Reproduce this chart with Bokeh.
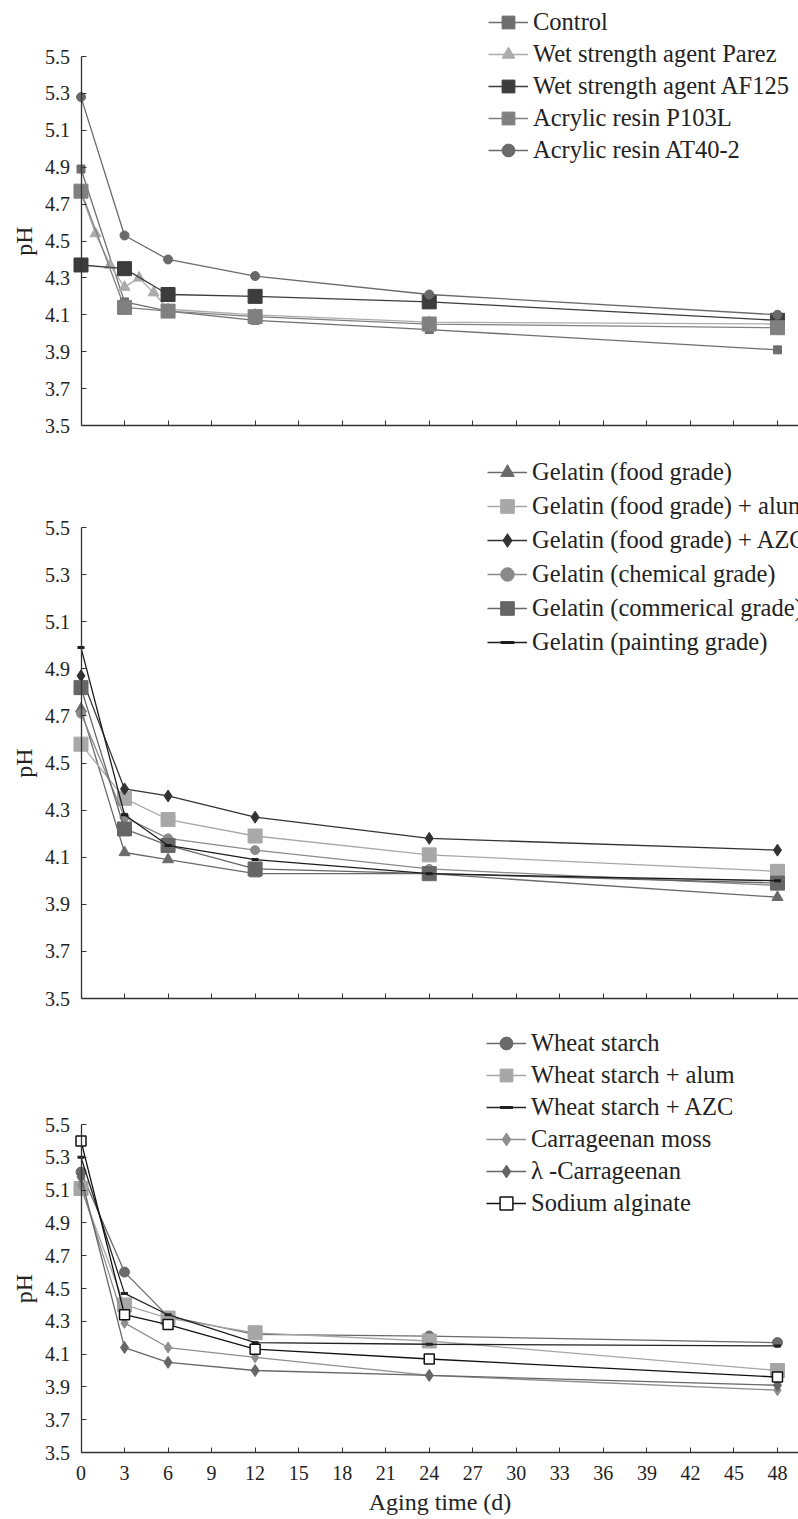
from bokeh.plotting import figure
from bokeh.layouts import column
from bokeh.models import Range1d, FixedTicker, Legend, LegendItem
from bokeh.embed import file_html
from bokeh.resources import INLINE

FONT = "Liberation Serif"

# ---------------- data ----------------
days = [0, 3, 6, 12, 24, 48]
days_parez = [0, 1, 2, 3, 4, 5, 6, 12, 24, 48]
x_ticks = [0, 3, 6, 9, 12, 15, 18, 21, 24, 27, 30, 33, 36, 39, 42, 45, 48]
y_ticks = [3.5, 3.7, 3.9, 4.1, 4.3, 4.5, 4.7, 4.9, 5.1, 5.3, 5.5]

# panel 1
control = [4.89, 4.17, 4.12, 4.07, 4.02, 3.91]
parez = [4.76, 4.54, 4.37, 4.25, 4.30, 4.22, 4.13, 4.10, 4.06, 4.05]
af125 = [4.37, 4.35, 4.21, 4.20, 4.17, 4.07]
p103l = [4.77, 4.14, 4.12, 4.09, 4.05, 4.03]
at40 = [5.28, 4.53, 4.40, 4.31, 4.21, 4.10]

# panel 2
gel_food = [4.73, 4.12, 4.09, 4.03, 4.03, 3.93]
gel_alum = [4.58, 4.35, 4.26, 4.19, 4.11, 4.04]
gel_azc = [4.87, 4.39, 4.36, 4.27, 4.18, 4.13]
gel_chem = [4.71, 4.27, 4.18, 4.13, 4.05, 3.98]
gel_comm = [4.82, 4.22, 4.15, 4.05, 4.03, 3.99]
gel_paint = [4.99, 4.28, 4.15, 4.09, 4.03, 4.00]

# panel 3
wheat = [5.21, 4.60, 4.33, 4.22, 4.21, 4.17]
wheat_alum = [5.11, 4.40, 4.32, 4.23, 4.18, 4.00]
wheat_azc = [5.30, 4.47, 4.34, 4.17, 4.16, 4.15]
moss = [5.13, 4.29, 4.14, 4.08, 3.97, 3.88]
lam = [5.18, 4.14, 4.05, 4.00, 3.97, 3.91]
alginate = [5.40, 4.34, 4.28, 4.13, 4.07, 3.96]

# ---------------- styles ----------------
panel1 = [
    ("Control", days, control, "#6e6e6e", "square", 8, None),
    ("Wet strength agent Parez", days_parez, parez, "#ababab", "triangle", 11, None),
    ("Wet strength agent AF125", days, af125, "#3c3c3c", "square", 14, None),
    ("Acrylic resin P103L", days, p103l, "#808080", "square", 14, None),
    ("Acrylic resin AT40-2", days, at40, "#6a6a6a", "circle", 9, None),
]
panel2 = [
    ("Gelatin (food grade)", days, gel_food, "#6a6a6a", "triangle", 11, None),
    ("Gelatin (food grade) + alum", days, gel_alum, "#a8a8a8", "square", 14, None),
    ("Gelatin (food grade) + AZC", days, gel_azc, "#333333", "diamond", 12, None),
    ("Gelatin (chemical grade)", days, gel_chem, "#8a8a8a", "circle", 9, None),
    ("Gelatin (commerical grade)", days, gel_comm, "#666666", "square", 14, None),
    ("Gelatin (painting grade)", days, gel_paint, "#1c1c1c", "dash", 7, None),
]
panel3 = [
    ("Wheat starch", days, wheat, "#6a6a6a", "circle", 10, None),
    ("Wheat starch + alum", days, wheat_alum, "#a6a6a6", "square", 14, None),
    ("Wheat starch + AZC", days, wheat_azc, "#222222", "dash", 7, None),
    ("Carrageenan moss", days, moss, "#8e8e8e", "diamond", 11, None),
    ("\u03bb -Carrageenan", days, lam, "#666666", "diamond", 12, None),
    ("Sodium alginate", days, alginate, "#111111", "square", 10, "white"),
]

# ---------------- layout (pixels) ----------------
W = 798
X_ZERO_PX = 80.5          # where day 0 sits
PX_PER_DAY = 14.51
X0 = -X_ZERO_PX / PX_PER_DAY
X1 = (W - X_ZERO_PX) / PX_PER_DAY


def make_panel(series, height, base_px, px_per_unit, leg_x, leg_y, row_h, show_x):
    # base_px: distance from figure top to the pH 3.5 line
    y_top = 3.5 + base_px / px_per_unit
    y_bot = 3.5 - (height - base_px) / px_per_unit
    p = figure(width=W, height=height, output_backend="svg", toolbar_location=None,
               x_range=Range1d(X0, X1), y_range=Range1d(y_bot, y_top),
               min_border_left=0, min_border_right=0,
               min_border_top=0, min_border_bottom=0)
    p.background_fill_color = "white"
    p.border_fill_color = "white"
    p.outline_line_color = None
    p.grid.visible = False

    items = []
    for label, xs, ys, color, marker, size, fill in series:
        r_line = p.line(xs, ys, line_color=color, line_width=1.3)
        if marker == "dash":
            r_pt = p.scatter(xs, ys, marker="dash", size=size, line_color=color, line_width=3)
        else:
            r_pt = p.scatter(xs, ys, marker=marker, size=size,
                             fill_color=fill if fill else color,
                             line_color=color, line_width=1.5 if fill else 1)
        items.append(LegendItem(label=label, renderers=[r_line, r_pt]))

    # legend bottom measured from the frame bottom (= figure bottom)
    leg = Legend(items=items, location=(leg_x, height - leg_y - row_h * len(items)),
                 glyph_width=40, glyph_height=row_h, label_height=row_h, spacing=0,
                 padding=0, margin=0, label_standoff=5, label_text_font=FONT,
                 label_text_font_size="24.5px", label_text_color="#222222",
                 background_fill_alpha=0, border_line_alpha=0)
    p.add_layout(leg)

    ya = p.yaxis[0]
    ya.fixed_location = 0
    ya.bounds = (3.5, 5.5)
    ya.ticker = FixedTicker(ticks=y_ticks)
    ya.minor_tick_line_color = None
    ya.major_tick_in = 5
    ya.major_tick_out = 0
    ya.axis_line_color = "#333333"
    ya.axis_line_width = 1.3
    ya.major_tick_line_color = "#333333"
    ya.major_label_text_font = FONT
    ya.major_label_text_font_size = "20px"
    ya.major_label_text_color = "#222222"
    ya.major_label_standoff = 11
    ya.axis_label = "pH"
    ya.axis_label_text_font = FONT
    ya.axis_label_text_font_size = "24px"
    ya.axis_label_text_font_style = "normal"
    ya.axis_label_text_color = "#222222"
    ya.axis_label_standoff = 6

    xa = p.xaxis[0]
    xa.fixed_location = 3.5
    xa.bounds = (0, X1)
    xa.ticker = FixedTicker(ticks=x_ticks)
    xa.minor_tick_line_color = None
    xa.major_tick_in = 5
    xa.major_tick_out = 0
    xa.axis_line_color = "#333333"
    xa.axis_line_width = 1.3
    xa.major_tick_line_color = "#333333"
    if show_x:
        xa.major_label_text_font = FONT
        xa.major_label_text_font_size = "20px"
        xa.major_label_text_color = "#222222"
        xa.major_label_standoff = 13
        xa.axis_label = "Aging time (d)"
        xa.axis_label_text_font = FONT
        xa.axis_label_text_font_size = "24px"
        xa.axis_label_text_font_style = "normal"
        xa.axis_label_text_color = "#222222"
        xa.axis_label_standoff = 6
    else:
        xa.major_label_text_font_size = "1px"
        xa.major_label_text_color = None
        xa.major_label_standoff = 0
    return p


# figure heights, 3.5-line offsets, px per pH unit, legend x, legend top, row height
p1 = make_panel(panel1, 445, 425, 184.5, 488, 6, 32, False)
p2 = make_panel(panel2, 570, 553, 235.5, 487, 10, 34, False)
p3 = make_panel(panel3, 503, 437, 164.0, 486, 12, 32, True)

layout = column(p1, p2, p3, spacing=0)
open("out.html", "w").write(file_html(layout, INLINE))
